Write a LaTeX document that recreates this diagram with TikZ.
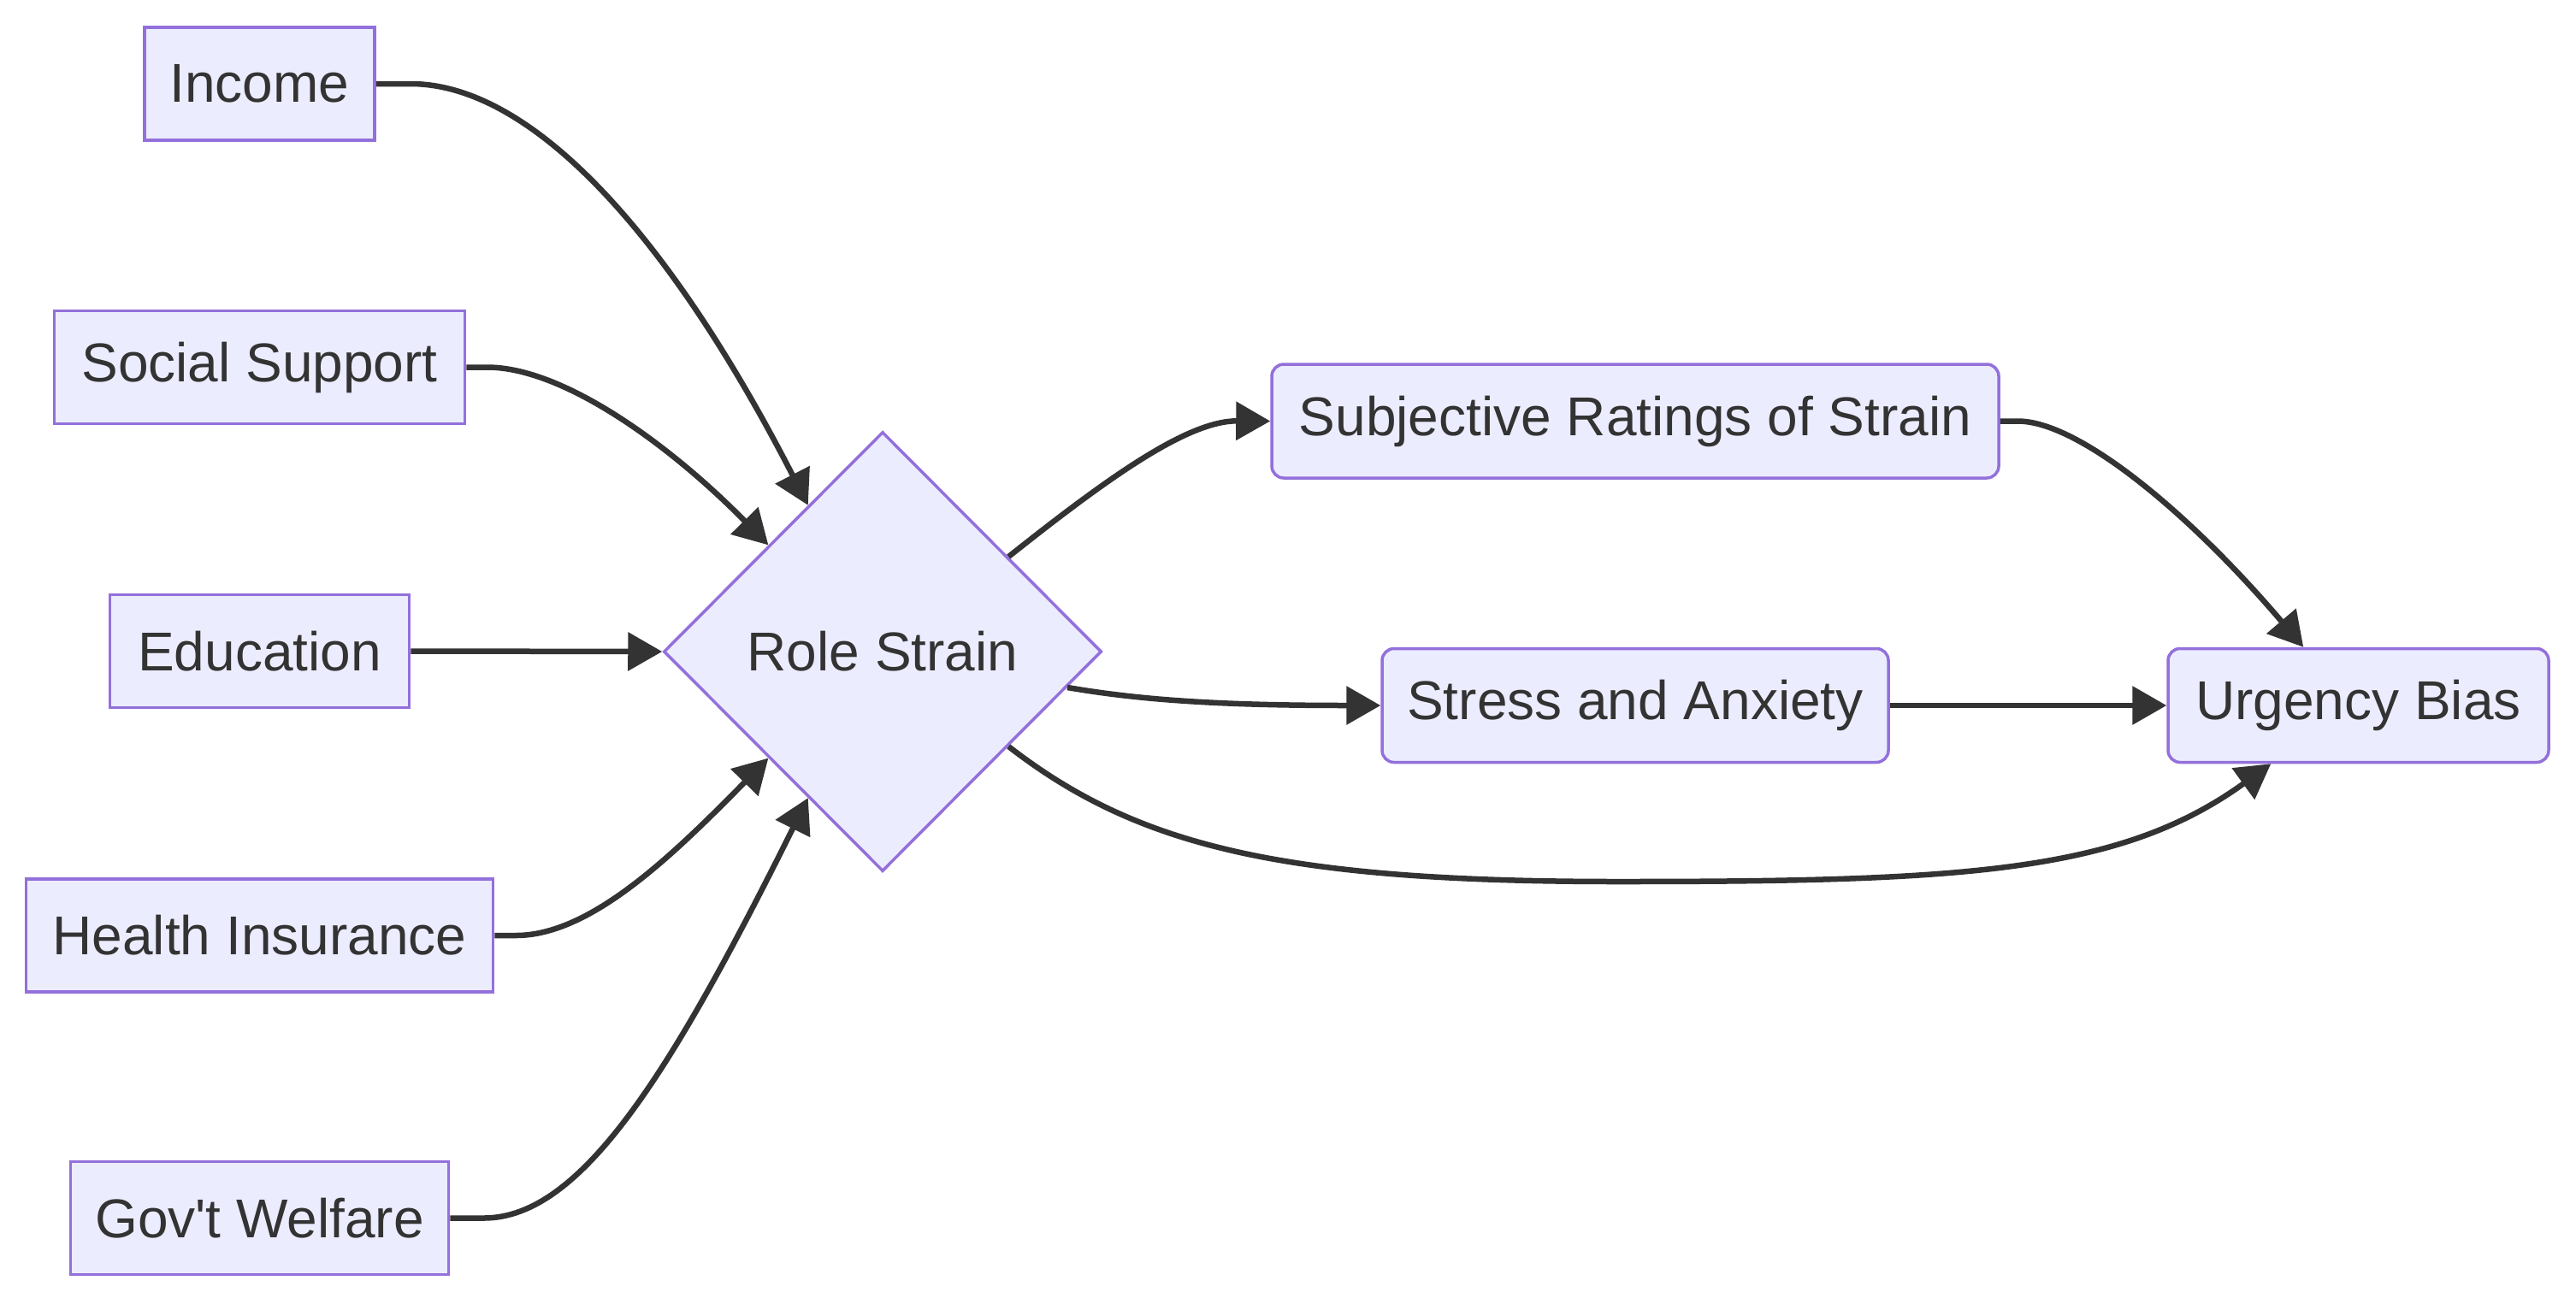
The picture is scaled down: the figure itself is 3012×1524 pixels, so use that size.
\documentclass[tikz,border=0pt]{standalone}
\usepackage{fontspec}
\setmainfont{Liberation Sans}
\usetikzlibrary{shapes.geometric,arrows.meta}
\definecolor{nodefill}{HTML}{ECECFF}
\definecolor{nodeline}{HTML}{9370DB}
\definecolor{ink}{HTML}{333333}
\begin{document}
\begin{tikzpicture}[x=1pt,y=-1pt,
  base/.style={draw=nodeline, fill=nodefill, line width=3.5pt, text=ink, font=\fontsize{64}{76}\selectfont, inner sep=0pt},
  sq/.style={base, rectangle, minimum height=132pt},
  rnd/.style={base, rectangle, rounded corners=14pt, minimum height=133pt},
  dia/.style={base, diamond, minimum width=512pt, minimum height=514pt, aspect=1},
  edge/.style={draw=ink, line width=6.5pt, -{Triangle[length=40pt,width=44pt]}}
]
\useasboundingbox[fill=white] (0,0) rectangle (3012,1524);

\node[sq, minimum width=269pt] (inc) at (303.5,98) {Income};
\node[sq, minimum width=480pt] (ss) at (303.5,429.5) {Social Support};
\node[sq, minimum width=350pt] (edu) at (303.5,761.5) {Education};
\node[sq, minimum width=546pt] (hi) at (303.5,1094) {Health Insurance};
\node[sq, minimum width=442pt] (gw) at (303.5,1424.5) {Gov\textquotesingle t Welfare};

\node[dia] (rs) at (1032,762) {Role Strain};
\node[rnd, minimum width=850pt] (srs) at (1912,492.5) {Subjective Ratings of Strain};
\node[rnd, minimum width=592pt] (sa) at (1912,825) {Stress and Anxiety};
\node[rnd, minimum width=445pt] (ub) at (2757.5,825) {Urgency Bias};

\coordinate (low) at (1892,1031);

\draw[edge] (inc.east) -- ++(40,0) .. controls (620,98) and (780,270) .. (rs.117);
\draw[edge] (ss.east) -- ++(25,0) .. controls (660,430) and (785,522) .. (rs.137);
\draw[edge] (edu.east) -- (rs.west);
\draw[edge] (hi.east) -- ++(25,0) .. controls (690,1094) and (785,1002) .. (rs.223);
\draw[edge] (gw.east) -- ++(40,0) .. controls (680,1424) and (785,1254) .. (rs.243);

\draw[edge] (rs.37) .. controls (1300,555) and (1390,492) .. (srs.west);
\draw[edge] (rs.-11) .. controls (1330,818) and (1420,825) .. (sa.west);
\draw[edge] (rs.-37) .. controls (1330,990) and (1500,1031) .. (low) .. controls (2300,1031) and (2480,1020) .. ([xshift=122pt]ub.south west);

\draw[edge] (srs.east) -- ++(20,0) .. controls (2430,492) and (2560,600) .. ([xshift=160pt]ub.north west);
\draw[edge] (sa.east) -- (ub.west);
\end{tikzpicture}
\end{document}
